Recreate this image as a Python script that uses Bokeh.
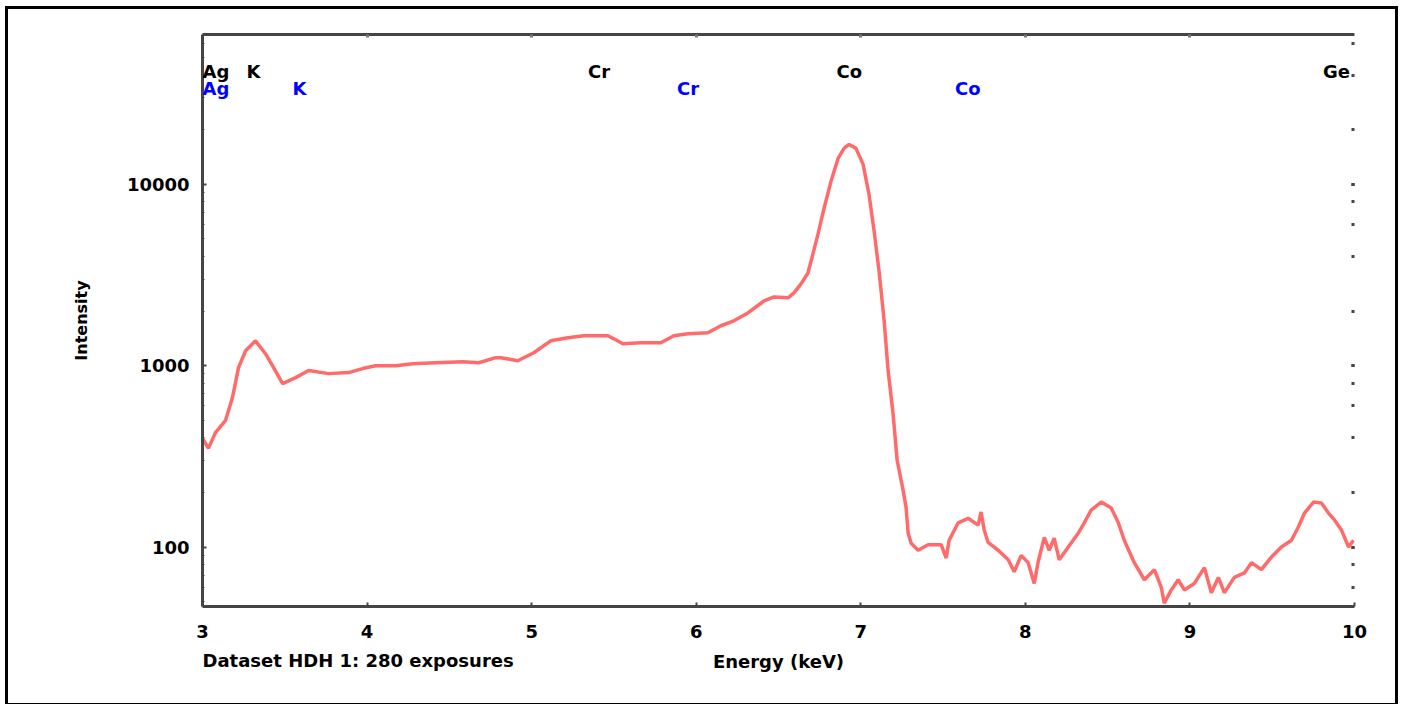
from bokeh.plotting import figure
from bokeh.models import LogAxis, LinearAxis, Range1d, Label, FixedTicker, PrintfTickFormatter
from bokeh.embed import file_html
from bokeh.resources import INLINE

# ---- data ----
energy_kev = [3.00, 3.036, 3.079, 3.140, 3.182, 3.219, 3.262, 3.322, 3.383, 3.432,
              3.487, 3.566, 3.645, 3.766, 3.888, 3.973, 4.052, 4.174, 4.277, 4.417,
              4.581, 4.679, 4.782, 4.812, 4.916, 5.013, 5.116, 5.220, 5.317, 5.463,
              5.500, 5.554, 5.664, 5.785, 5.864, 5.950, 6.071, 6.150, 6.229, 6.314,
              6.412, 6.473, 6.558, 6.594, 6.637, 6.679, 6.698, 6.740, 6.777, 6.819,
              6.862, 6.898, 6.929, 6.971, 7.014, 7.050, 7.081, 7.111, 7.142, 7.166,
              7.196, 7.221, 7.257, 7.275, 7.288, 7.306, 7.348, 7.409, 7.488, 7.519,
              7.537, 7.592, 7.652, 7.713, 7.731, 7.750, 7.774, 7.835, 7.896, 7.932,
              7.975, 8.017, 8.054, 8.078, 8.115, 8.145, 8.175, 8.206, 8.261, 8.321,
              8.358, 8.400, 8.461, 8.522, 8.565, 8.601, 8.662, 8.723, 8.784, 8.826,
              8.844, 8.887, 8.929, 8.966, 9.027, 9.088, 9.130, 9.173, 9.209, 9.270,
              9.331, 9.374, 9.434, 9.495, 9.556, 9.617, 9.659, 9.696, 9.751, 9.799,
              9.842, 9.878, 9.921, 9.964, 9.994]
intensity = [397, 350, 428, 499, 667, 975, 1208, 1371, 1164, 975,
             796, 859, 940, 904, 916, 964, 1000, 1000, 1026, 1038,
             1051, 1038, 1107, 1107, 1065, 1178, 1371, 1426, 1463, 1463,
             1406, 1321, 1337, 1337, 1463, 1499, 1518, 1660, 1767, 1954,
             2275, 2393, 2366, 2518, 2826, 3243, 3775, 5312, 7383, 10386,
             13895, 15780, 16596, 15780, 12880, 8811, 5520, 3327, 1767, 940,
             545, 301, 206, 166, 119, 105, 96, 103, 103, 87,
             109, 136, 144, 132, 156, 124, 106, 96, 85, 73,
             90, 82, 63, 83, 113, 96, 112, 85, 100, 119,
             136, 160, 177, 164, 136, 109, 82, 66, 75, 60,
             49, 58, 66, 58, 63, 77, 56, 68, 56, 68,
             72, 82, 75, 88, 100, 109, 129, 154, 177, 175,
             154, 141, 124, 100, 109]

x_ticks = [3, 4, 5, 6, 7, 8, 9, 10]

# element line markers (alpha lines black, beta lines blue)
alpha_names = ["Ag", "K", "Cr", "Co", "Ge"]
alpha_kev = [2.98, 3.31, 5.41, 6.93, 9.89]
beta_names = ["Ag", "K", "Cr", "Co"]
beta_kev = [3.15, 3.59, 5.95, 7.65]

dataset_note = "Dataset HDH 1: 280 exposures"

# ---- styling ----
FONT = "DejaVu Sans"
AXC = "#454545"

X0, X1 = 3, 10
p = figure(width=1393, height=700,
           x_range=Range1d(X0, X1), y_range=Range1d(47, 67000),
           y_axis_type="log", output_backend="svg", toolbar_location=None,
           min_border_left=194, min_border_right=47,
           min_border_top=25, min_border_bottom=103)
p.styles = {"border": "3px solid black", "margin-left": "5px", "margin-top": "6px"}
p.outline_line_color = None
p.xgrid.visible = False
p.ygrid.visible = False
p.background_fill_color = "white"
p.border_fill_color = "white"

# bottom axis
xa = p.xaxis[0]
xa.ticker = FixedTicker(ticks=x_ticks)
xa.axis_line_color = AXC
xa.axis_line_width = 3
xa.major_tick_line_color = AXC
xa.major_tick_line_width = 2
xa.major_tick_in = 4
xa.major_tick_out = 0
xa.minor_tick_line_color = None
xa.major_label_text_font = FONT
xa.major_label_text_font_style = "bold"
xa.major_label_text_font_size = "18px"
xa.major_label_text_color = "black"
xa.major_label_standoff = 18
xa.axis_label = "Energy (keV)"
xa.axis_label_text_font = FONT
xa.axis_label_text_font_style = "bold"
xa.axis_label_text_font_size = "18px"
xa.axis_label_text_color = "black"
xa.axis_label_standoff = 10

# left axis
ya = p.yaxis[0]
ya.formatter = PrintfTickFormatter(format="%d")
ya.axis_line_color = AXC
ya.axis_line_width = 3
ya.major_tick_line_color = AXC
ya.major_tick_line_width = 2
ya.major_tick_in = 4
ya.major_tick_out = 0
ya.minor_tick_line_color = AXC
ya.minor_tick_line_width = 1
ya.minor_tick_in = 2
ya.minor_tick_out = 0
ya.major_label_text_font = FONT
ya.major_label_text_font_style = "bold"
ya.major_label_text_font_size = "18px"
ya.major_label_text_color = "black"
ya.major_label_standoff = 13
ya.axis_label = "Intensity"
ya.axis_label_text_font = FONT
ya.axis_label_text_font_style = "bold"
ya.axis_label_text_font_size = "16px"
ya.axis_label_text_color = "black"
ya.axis_label_standoff = 33

# top axis (line + small ticks, labels invisible)
top = LinearAxis(ticker=FixedTicker(ticks=x_ticks[1:-1]))
top.axis_line_color = AXC
top.axis_line_width = 3
top.major_tick_line_color = "#777777"
top.major_tick_line_width = 3
top.major_tick_in = 3
top.major_tick_out = 0
top.minor_tick_line_color = None
top.major_label_text_font_size = "6px"
top.major_label_text_color = None
top.major_label_standoff = 0
p.add_layout(top, "above")

# right axis (dotted look: ticks only)
right = LogAxis()
right.axis_line_color = None
right.major_tick_line_color = AXC
right.major_tick_line_width = 3
right.major_tick_in = 3
right.major_tick_out = 0
right.minor_tick_line_color = AXC
right.minor_tick_line_width = 3
right.minor_tick_in = 3
right.minor_tick_out = 0
right.major_label_text_font_size = "6px"
right.major_label_text_color = None
right.major_label_standoff = 0
p.add_layout(right, "right")

# spectrum
p.line(energy_kev, intensity, line_color="#ff4545", line_width=3.5, line_alpha=0.8)

# element labels (labels that would run past the left edge are pinned to it)
def add_labels(names, kevs, y, color):
    for n, e in zip(names, kevs):
        clamped = e < X0 + 0.2
        p.add_layout(Label(x=X0 if clamped else e, y=y, text=n,
                           text_align="left" if clamped else "center",
                           text_baseline="middle", text_color=color,
                           text_font=FONT, text_font_style="bold",
                           text_font_size="18px"))

add_labels(alpha_names, alpha_kev, 41800, "black")
add_labels(beta_names, beta_kev, 33600, "#0000ff")

# dataset note, placed in the bottom side panel (not clipped by the frame)
p.add_layout(Label(x=0, y=35, x_units="screen", y_units="screen",
                   text=dataset_note, text_align="left",
                   text_baseline="middle", text_color="black", text_font=FONT,
                   text_font_style="bold", text_font_size="18px"), "below")

open("out.html", "w").write(file_html(p, INLINE))
